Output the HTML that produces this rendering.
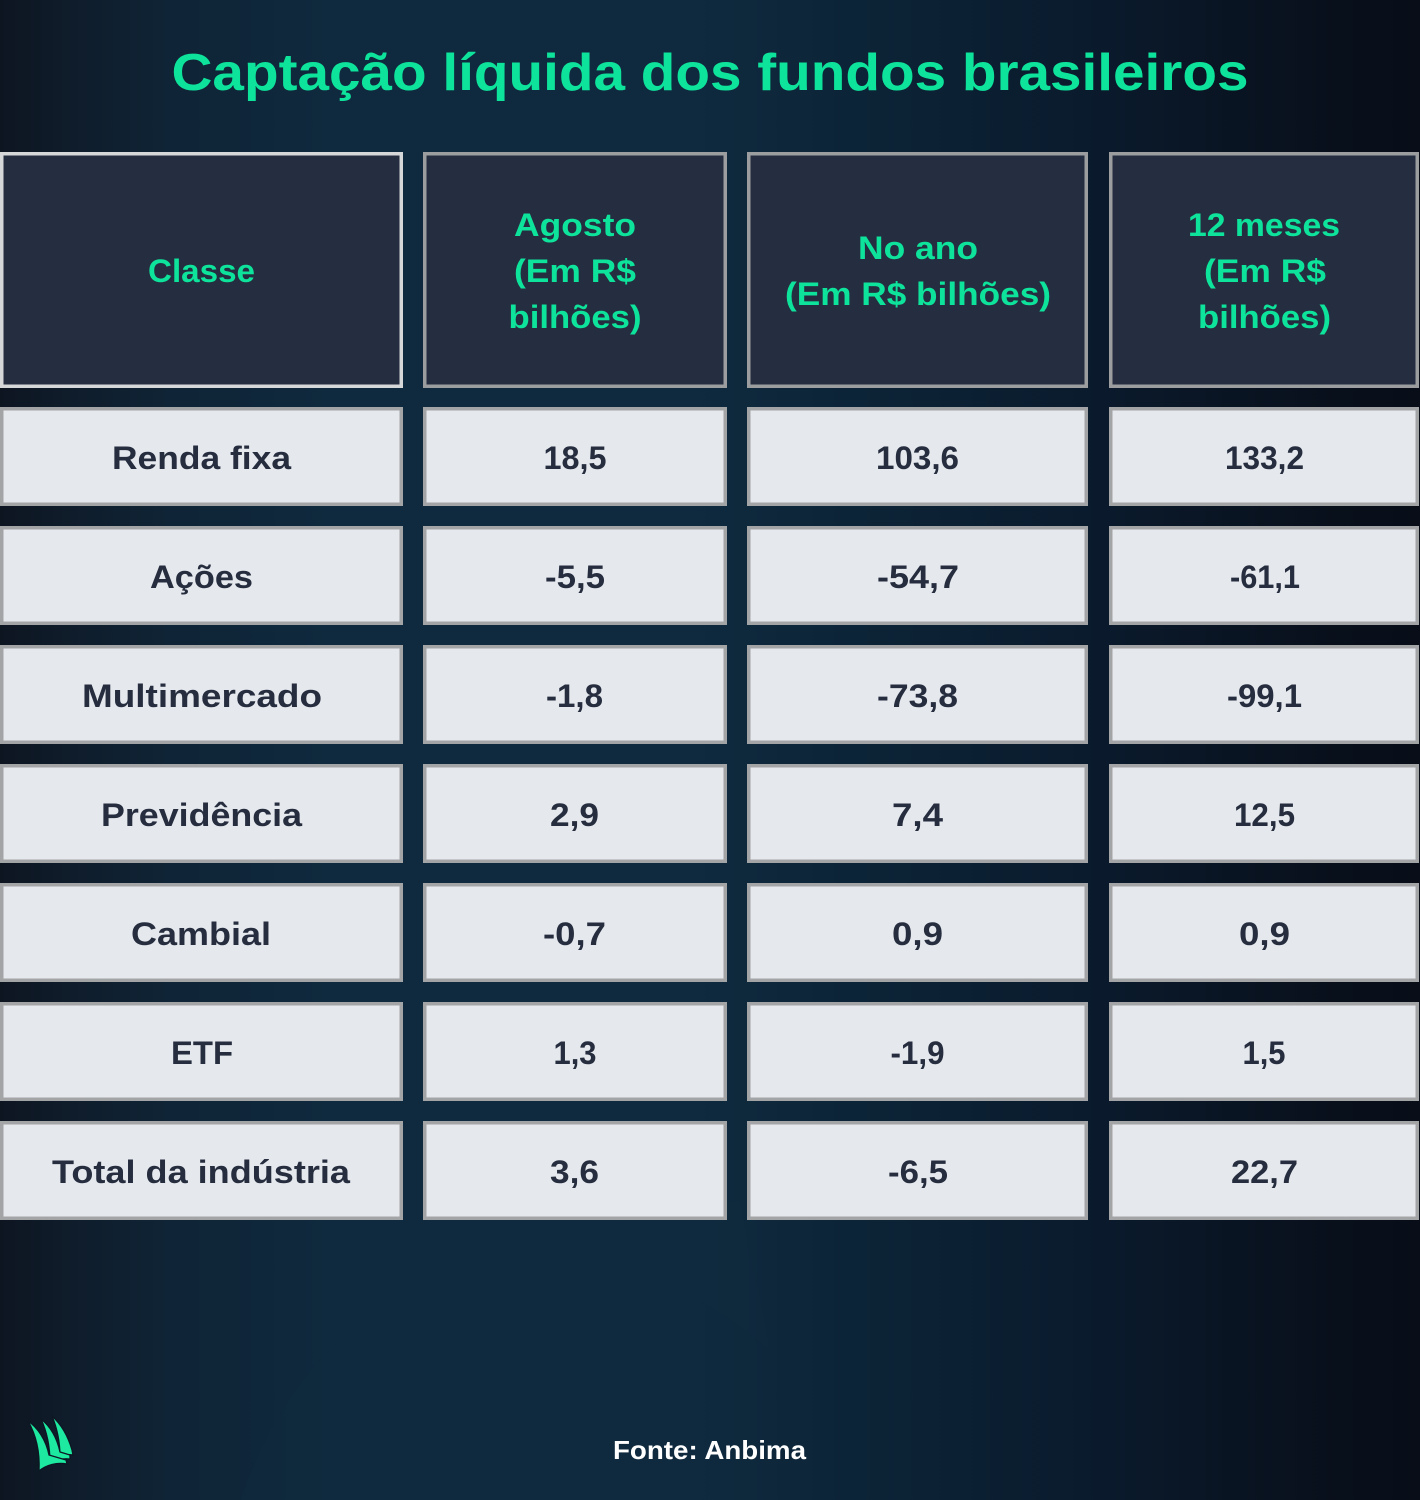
<!DOCTYPE html>
<html><head><meta charset="utf-8"><style>
html,body{margin:0;padding:0;background:#0c1c2b;}
svg{display:block;}
text{font-family:"Liberation Sans",Arial,sans-serif;font-weight:bold;}
</style></head><body>
<svg width="1420" height="1500" viewBox="0 0 1420 1500" xmlns="http://www.w3.org/2000/svg">
<defs>
<linearGradient id="bg" x1="0" y1="0" x2="1" y2="0">
<stop offset="0" stop-color="#0d1521"/>
<stop offset="0.04" stop-color="#0f1b29"/>
<stop offset="0.12" stop-color="#0f2436"/>
<stop offset="0.25" stop-color="#0f2a3f"/>
<stop offset="0.48" stop-color="#0f2a3f"/>
<stop offset="0.62" stop-color="#0c2336"/>
<stop offset="0.78" stop-color="#0a1a2c"/>
<stop offset="0.9" stop-color="#09121f"/>
<stop offset="1" stop-color="#080d18"/>
</linearGradient>
</defs>
<rect x="0" y="0" width="1420" height="1500" fill="url(#bg)"/>
<path d="M240 1500 C300 1330 420 1260 540 1260 C640 1260 710 1300 770 1350 L740 1200 L620 1220 L560 1500 Z" fill="#102b40" opacity="0.35"/>

<text x="710" y="90" font-size="52" fill="#0ee39b" text-anchor="middle" textLength="1077" lengthAdjust="spacingAndGlyphs">Captação líquida dos fundos brasileiros</text>

<!-- header cells -->
<rect x="1.75" y="153.75" width="399.5" height="232.5" fill="#252e40" stroke="#d6d7d9" stroke-width="3.5"/>
<rect x="424.75" y="153.75" width="300.5" height="232.5" fill="#252e40" stroke="#9c9d9f" stroke-width="3.5"/>
<rect x="748.75" y="153.75" width="337.5" height="232.5" fill="#252e40" stroke="#9c9d9f" stroke-width="3.5"/>
<rect x="1110.75" y="153.75" width="306.5" height="232.5" fill="#252e40" stroke="#9c9d9f" stroke-width="3.5"/>

<g fill="#0ee39b" font-size="32" text-anchor="middle">
<text x="201.5" y="282" textLength="107" lengthAdjust="spacingAndGlyphs">Classe</text>
<text x="575" y="236" textLength="122" lengthAdjust="spacingAndGlyphs">Agosto</text>
<text x="575" y="282" textLength="122" lengthAdjust="spacingAndGlyphs">(Em R$</text>
<text x="575" y="328" textLength="133" lengthAdjust="spacingAndGlyphs">bilhões)</text>
<text x="918" y="259" textLength="120" lengthAdjust="spacingAndGlyphs">No ano</text>
<text x="918" y="305" textLength="266" lengthAdjust="spacingAndGlyphs">(Em R$ bilhões)</text>
<text x="1264" y="236" textLength="152" lengthAdjust="spacingAndGlyphs">12 meses</text>
<text x="1265" y="282" textLength="122" lengthAdjust="spacingAndGlyphs">(Em R$</text>
<text x="1264.5" y="328" textLength="133" lengthAdjust="spacingAndGlyphs">bilhões)</text>
</g>

<!-- body rows -->
<g fill="#e5e8ed" stroke="#a3a4a6" stroke-width="3.5">
<rect x="1.75" y="408.75" width="399.5" height="95.5"/><rect x="424.75" y="408.75" width="300.5" height="95.5"/><rect x="748.75" y="408.75" width="337.5" height="95.5"/><rect x="1110.75" y="408.75" width="306.5" height="95.5"/>
<rect x="1.75" y="527.75" width="399.5" height="95.5"/><rect x="424.75" y="527.75" width="300.5" height="95.5"/><rect x="748.75" y="527.75" width="337.5" height="95.5"/><rect x="1110.75" y="527.75" width="306.5" height="95.5"/>
<rect x="1.75" y="646.75" width="399.5" height="95.5"/><rect x="424.75" y="646.75" width="300.5" height="95.5"/><rect x="748.75" y="646.75" width="337.5" height="95.5"/><rect x="1110.75" y="646.75" width="306.5" height="95.5"/>
<rect x="1.75" y="765.75" width="399.5" height="95.5"/><rect x="424.75" y="765.75" width="300.5" height="95.5"/><rect x="748.75" y="765.75" width="337.5" height="95.5"/><rect x="1110.75" y="765.75" width="306.5" height="95.5"/>
<rect x="1.75" y="884.75" width="399.5" height="95.5"/><rect x="424.75" y="884.75" width="300.5" height="95.5"/><rect x="748.75" y="884.75" width="337.5" height="95.5"/><rect x="1110.75" y="884.75" width="306.5" height="95.5"/>
<rect x="1.75" y="1003.75" width="399.5" height="95.5"/><rect x="424.75" y="1003.75" width="300.5" height="95.5"/><rect x="748.75" y="1003.75" width="337.5" height="95.5"/><rect x="1110.75" y="1003.75" width="306.5" height="95.5"/>
<rect x="1.75" y="1122.75" width="399.5" height="95.5"/><rect x="424.75" y="1122.75" width="300.5" height="95.5"/><rect x="748.75" y="1122.75" width="337.5" height="95.5"/><rect x="1110.75" y="1122.75" width="306.5" height="95.5"/>
</g>

<g fill="#252d3e" font-size="32" text-anchor="middle">
<text x="201.5" y="469" textLength="179" lengthAdjust="spacingAndGlyphs">Renda fixa</text>
<text x="575" y="469" textLength="63" lengthAdjust="spacingAndGlyphs">18,5</text>
<text x="917.5" y="469" textLength="83" lengthAdjust="spacingAndGlyphs">103,6</text>
<text x="1264.5" y="469" textLength="79" lengthAdjust="spacingAndGlyphs">133,2</text>

<text x="201.5" y="588" textLength="103" lengthAdjust="spacingAndGlyphs">Ações</text>
<text x="575" y="588" textLength="60" lengthAdjust="spacingAndGlyphs">-5,5</text>
<text x="918" y="588" textLength="82" lengthAdjust="spacingAndGlyphs">-54,7</text>
<text x="1265" y="588" textLength="70" lengthAdjust="spacingAndGlyphs">-61,1</text>

<text x="202" y="707" textLength="240" lengthAdjust="spacingAndGlyphs">Multimercado</text>
<text x="574.5" y="707" textLength="57" lengthAdjust="spacingAndGlyphs">-1,8</text>
<text x="917.5" y="707" textLength="81" lengthAdjust="spacingAndGlyphs">-73,8</text>
<text x="1264.5" y="707" textLength="75" lengthAdjust="spacingAndGlyphs">-99,1</text>

<text x="201.5" y="826" textLength="201" lengthAdjust="spacingAndGlyphs">Previdência</text>
<text x="574.5" y="826" textLength="49" lengthAdjust="spacingAndGlyphs">2,9</text>
<text x="917.5" y="826" textLength="51" lengthAdjust="spacingAndGlyphs">7,4</text>
<text x="1264.5" y="826" textLength="61" lengthAdjust="spacingAndGlyphs">12,5</text>

<text x="201" y="945" textLength="140" lengthAdjust="spacingAndGlyphs">Cambial</text>
<text x="574.5" y="945" textLength="63" lengthAdjust="spacingAndGlyphs">-0,7</text>
<text x="917.5" y="945" textLength="51" lengthAdjust="spacingAndGlyphs">0,9</text>
<text x="1264.5" y="945" textLength="51" lengthAdjust="spacingAndGlyphs">0,9</text>

<text x="202" y="1064" textLength="62" lengthAdjust="spacingAndGlyphs">ETF</text>
<text x="575" y="1064" textLength="43" lengthAdjust="spacingAndGlyphs">1,3</text>
<text x="917.5" y="1064" textLength="54" lengthAdjust="spacingAndGlyphs">-1,9</text>
<text x="1264" y="1064" textLength="43" lengthAdjust="spacingAndGlyphs">1,5</text>

<text x="201" y="1183" textLength="298" lengthAdjust="spacingAndGlyphs">Total da indústria</text>
<text x="574.5" y="1183" textLength="49" lengthAdjust="spacingAndGlyphs">3,6</text>
<text x="918" y="1183" textLength="60" lengthAdjust="spacingAndGlyphs">-6,5</text>
<text x="1264.5" y="1183" textLength="67" lengthAdjust="spacingAndGlyphs">22,7</text>
</g>

<text x="709.5" y="1459" font-size="26" fill="#ffffff" text-anchor="middle" textLength="193" lengthAdjust="spacingAndGlyphs">Fonte: Anbima</text>

<!-- logo -->
<g fill="#1de9a0" stroke="#0d1724" stroke-width="1.3" stroke-linejoin="round">
<path d="M52 1416 C62 1425 68 1436 72 1450 L73 1455 C68 1454 64 1455 60 1457 C60 1442 57 1428 52 1416 Z"/>
<path d="M41 1419 C51 1427 57 1438 60 1452 L70 1455 L70 1459 C62 1458 56 1460 50 1463 C50 1447 47 1432 41 1419 Z"/>
<path d="M28 1421 C38 1428 46 1440 49 1455 L66 1460 L67 1464 C57 1462 46 1465 39 1471 C40 1452 36 1435 28 1421 Z"/>
</g>
</svg>
</body></html>
